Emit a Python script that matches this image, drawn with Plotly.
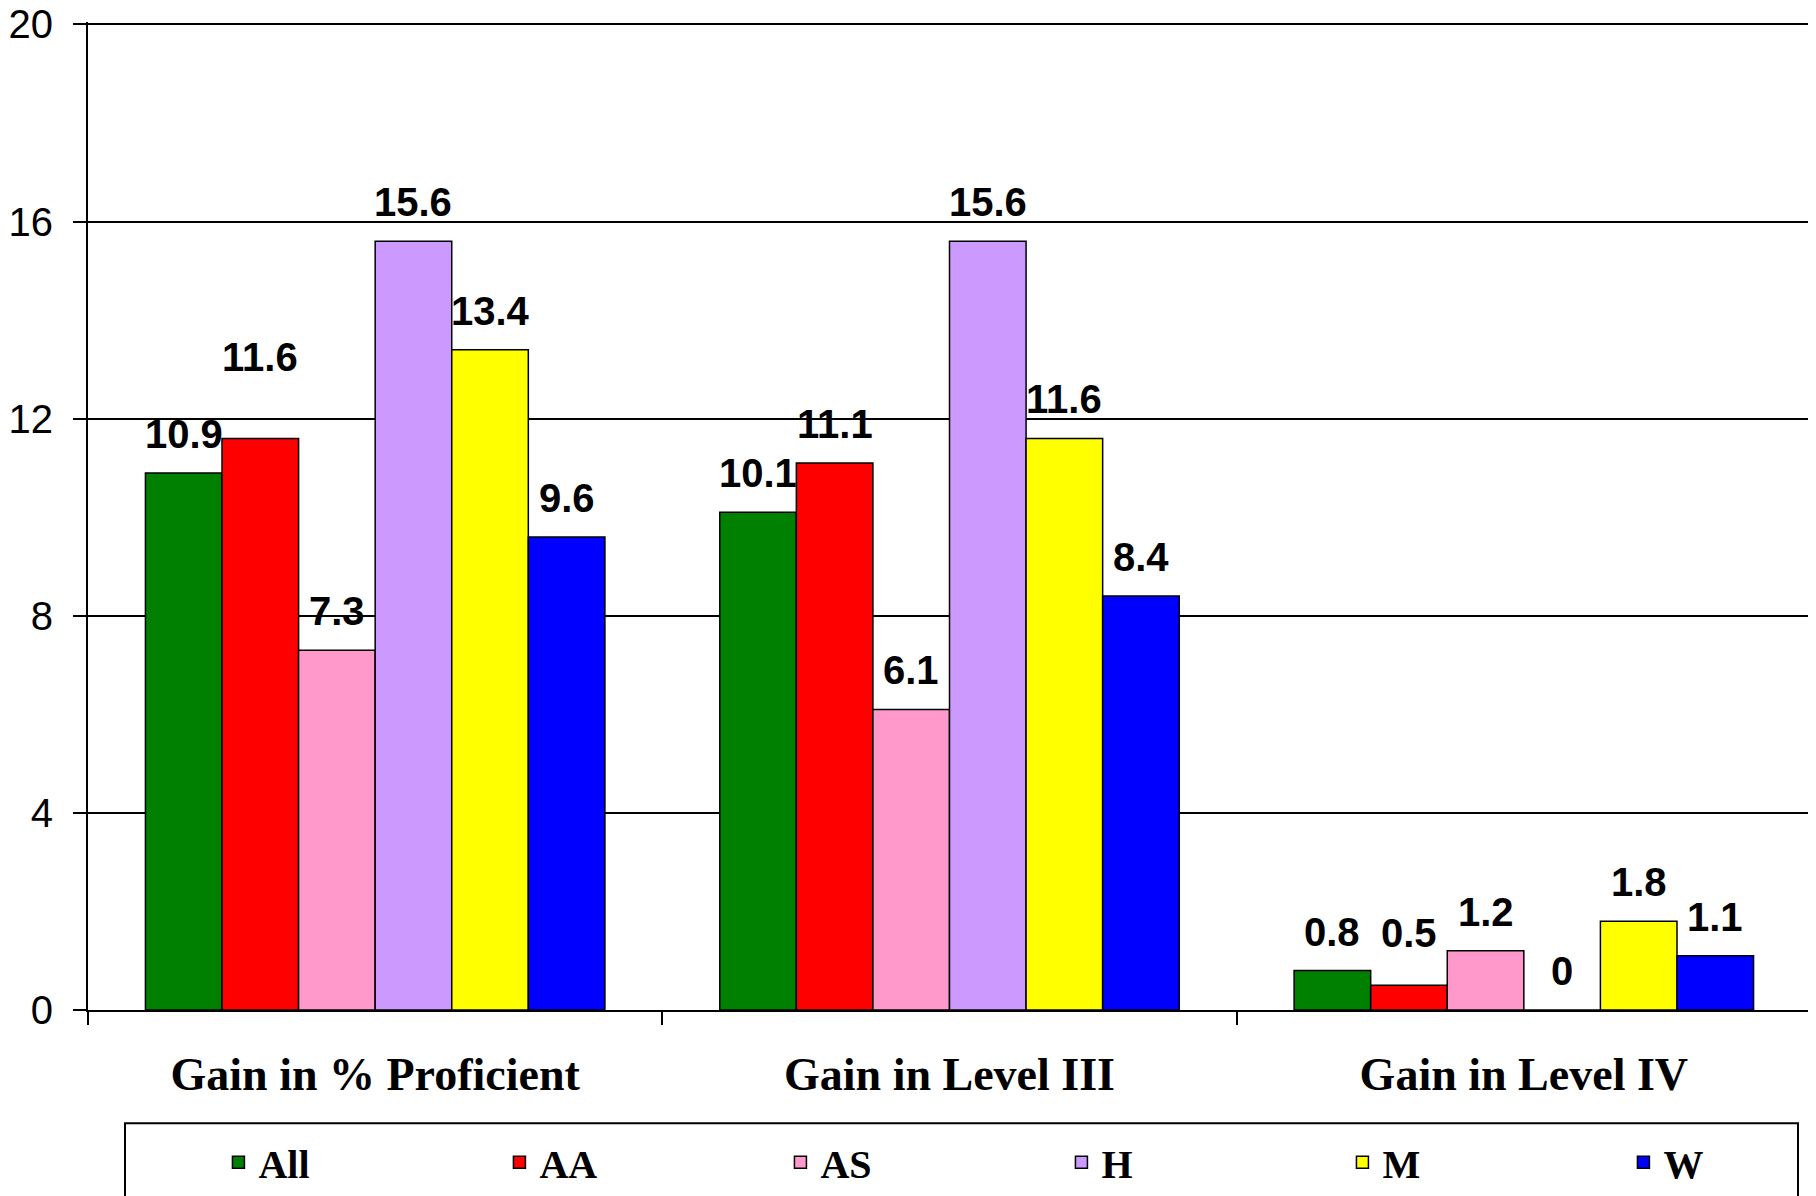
import plotly.graph_objects as go

categories = ["Gain in % Proficient", "Gain in Level III", "Gain in Level IV"]
groups = ["All", "AA", "AS", "H", "M", "W"]
all_vals = [10.9, 10.1, 0.8]
aa_vals = [11.6, 11.1, 0.5]
as_vals = [7.3, 6.1, 1.2]
h_vals = [15.6, 15.6, 0]
m_vals = [13.4, 11.6, 1.8]
w_vals = [9.6, 8.4, 1.1]
y_ticks = [0, 4, 8, 12, 16, 20]

series = [all_vals, aa_vals, as_vals, h_vals, m_vals, w_vals]
colors = ["#008000", "#FF0000", "#FF99CC", "#CC99FF", "#FFFF00", "#0000FF"]

# extra lift (px) for a few data labels that sit higher in the original
label_lift = {(0, 1): 42, (2, 1): 13}

fig = go.Figure()
for j, (name, vals) in enumerate(zip(groups, series)):
    fig.add_trace(go.Bar(
        name=name, x=categories, y=vals,
        marker=dict(color=colors[j], line=dict(color="black", width=1.5)),
    ))

n = len(groups)
group_w = 0.8
bw = group_w / n
annotations = []
for j, vals in enumerate(series):
    for i, v in enumerate(vals):
        annotations.append(dict(
            x=i - group_w / 2 + (j + 0.5) * bw, y=v, xref="x", yref="y",
            text=f"{v:g}", showarrow=False, yanchor="middle",
            yshift=39 + label_lift.get((i, j), 0),
            font=dict(family="Liberation Sans", size=40, color="black", weight="bold"),
        ))

# page body has an 8px margin, so the figure is sized/placed to compensate
fig.update_layout(
    width=1808, height=1188,
    margin=dict(l=80, r=5, t=13.5, b=186, autoexpand=False),
    paper_bgcolor="white", plot_bgcolor="white",
    barmode="group", bargap=0.2, bargroupgap=0,
    annotations=annotations,
    showlegend=True,
    legend=dict(
        orientation="h", x=0.0757, xanchor="left", y=-0.1542, yanchor="middle",
        font=dict(family="Liberation Serif", size=40, color="black", weight="bold"),
        entrywidth=236, entrywidthmode="pixels", borderwidth=0,
        bgcolor="rgba(0,0,0,0)",
    ),
    shapes=[dict(
        type="rect", xref="paper", yref="paper",
        x0=0.02147, x1=0.99245, y0=-0.1146, y1=-0.25,
        line=dict(color="black", width=2), fillcolor="rgba(0,0,0,0)",
    )],
)

fig.update_yaxes(
    range=[0, 20.05], tickvals=y_ticks, ticks="outside", ticklen=13, tickwidth=1.5,
    tickcolor="black", showline=True, linecolor="black", linewidth=2,
    showgrid=True, gridcolor="black", gridwidth=1.5, zeroline=False,
    tickfont=dict(family="Liberation Sans", size=40, color="black"),
    ticklabelstandoff=12, automargin=False, ticklabeloverflow="allow",
)
fig.update_xaxes(
    type="category", ticks="outside", tickson="boundaries", ticklen=13,
    tickwidth=1.5, tickcolor="black", showline=True, linecolor="black",
    linewidth=2, showgrid=False,
    tickfont=dict(family="Liberation Serif", size=46, color="black", weight="bold"),
    ticklabelstandoff=23, automargin=False, ticklabeloverflow="allow",
)

fig.write_html("out.html")
